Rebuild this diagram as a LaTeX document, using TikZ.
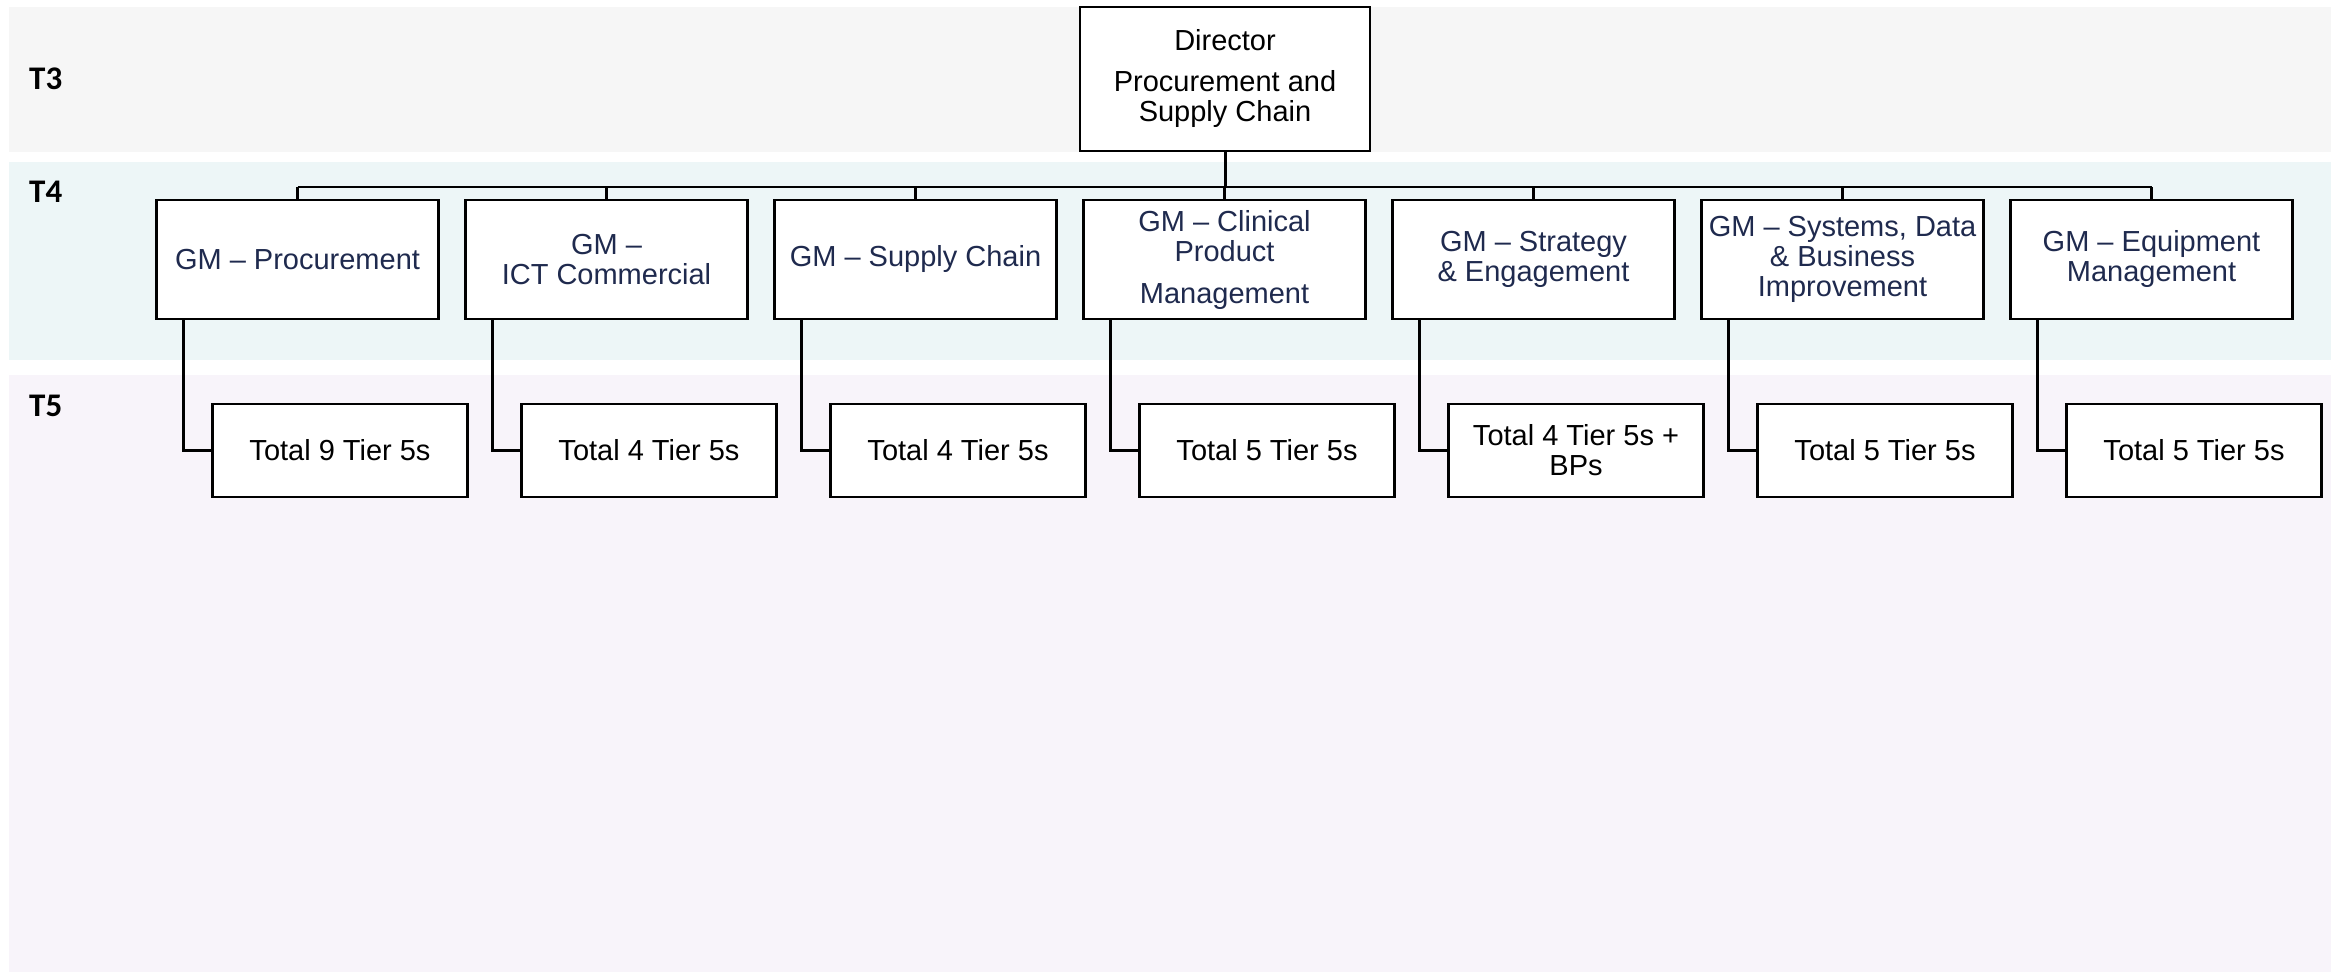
\documentclass[tikz,border=0pt]{standalone}
\usepackage{fontspec}
\setmainfont{Liberation Sans}
\newfontfamily\tierfont{Carlito}
\usetikzlibrary{calc}

\definecolor{bandthree}{HTML}{F6F6F6}
\definecolor{bandfour}{HTML}{EDF6F7}
\definecolor{bandfive}{HTML}{F8F4FA}
\definecolor{gmtext}{HTML}{1F2A4E}

\tikzset{
  orgline/.style={line width=2.2pt, draw=black},
  basebox/.style={draw=black, line width=2.2pt, fill=white, inner sep=0pt,
    align=center, font=\fontsize{29}{30}\selectfont},
  dirbox/.style={basebox, minimum width=290pt, minimum height=144pt},
  gmbox/.style={basebox, minimum width=282pt, minimum height=119pt, text=gmtext},
  tierbox/.style={basebox, minimum width=255pt, minimum height=93pt},
  tierlabel/.style={anchor=west, inner sep=0pt,
    font=\tierfont\bfseries\fontsize{33}{36}\selectfont}
}

\begin{document}
\begin{tikzpicture}[x=1pt, y=-1pt]
  \useasboundingbox (0,0) rectangle (2338,974);

  % tier bands
  \fill[bandthree] (9,7) rectangle (2331,152);
  \fill[bandfour] (9,162) rectangle (2331,360);
  \fill[bandfive] (9,375) rectangle (2331,972);

  \node[tierlabel] (lt3) at (29,79) {T3};
  \node[tierlabel] (lt4) at (29,192) {T4};
  \node[tierlabel] (lt5) at (29,406) {T5};

  % director
  \node[dirbox] (d) at (1225,79) {Director\\[11pt]Procurement and\\Supply Chain};

  % general managers
  \node[gmbox] (g1) at (297.5,259.5) {GM – Procurement};
  \node[gmbox] (g2) at (606.5,259.5) {GM –\\ICT Commercial};
  \node[gmbox] (g3) at (915.5,259.5) {GM – Supply Chain};
  \node[gmbox] (g4) at (1224.5,259.5) {GM – Clinical\\Product\\[12pt]Management};
  \node[gmbox] (g5) at (1533.5,259.5) {GM – Strategy\\\& Engagement};
  \node[gmbox] (g6) at (1842.5,259.5) {GM – Systems, Data\\\& Business\\Improvement};
  \node[gmbox] (g7) at (2151.5,259.5) {GM – Equipment\\Management};

  % tier 5 totals
  \node[tierbox] (t1) at (340,450.5) {Total 9 Tier 5s};
  \node[tierbox] (t2) at (649,450.5) {Total 4 Tier 5s};
  \node[tierbox] (t3) at (958,450.5) {Total 4 Tier 5s};
  \node[tierbox] (t4) at (1267,450.5) {Total 5 Tier 5s};
  \node[tierbox] (t5) at (1576,450.5) {Total 4 Tier 5s +\\BPs};
  \node[tierbox] (t6) at (1885,450.5) {Total 5 Tier 5s};
  \node[tierbox] (t7) at (2194,450.5) {Total 5 Tier 5s};

  % reporting lines
  \coordinate (bus) at (1225,187);
  \draw[orgline, line width=3pt] (d.south) -- (d.south |- bus);
  \draw[orgline] (g1.north |- bus) -- (g7.north |- bus);
  \foreach \i in {1,...,7}{
    \draw[orgline] (g\i.north) -- (g\i.north |- bus);
    \draw[orgline] ($(g\i.south west)+(28,0)$) |- (t\i.west);
  }
\end{tikzpicture}
\end{document}
